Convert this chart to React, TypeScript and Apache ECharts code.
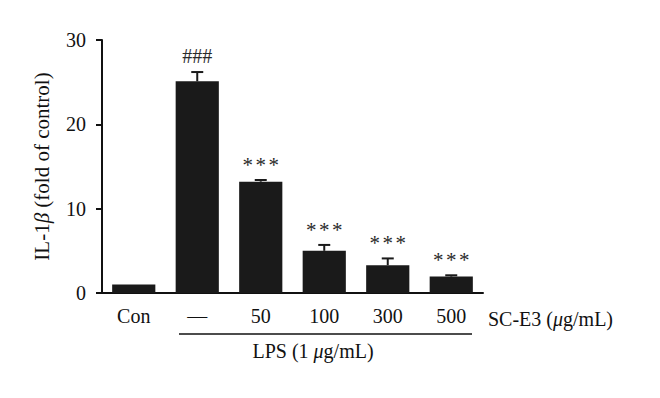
import React, { useEffect, useRef } from "react";
import * as echarts from "echarts";

const categories = ["Con", "—", "50", "100", "300", "500"];
const means = [1.0, 25.1, 13.2, 5.0, 3.3, 1.95];
const errors = [0, 1.1, 0.2, 0.7, 0.8, 0.15];
const marks = ["", "###", "***", "***", "***", "***"];
const yTicks = [0, 10, 20, 30];

const FONT = "Liberation Serif";

export default function App() {
  const ref = useRef<HTMLDivElement>(null);
  useEffect(() => {
    const chart = echarts.init(ref.current!, null, { renderer: "svg" });
    const errData = means.map((m, i) => [i, m, m + errors[i], marks[i]]);
    chart.setOption({
      animation: false,
      backgroundColor: "#ffffff",
      grid: { left: 102, top: 40, right: 177, bottom: 105 },
      xAxis: {
        type: "category",
        data: categories,
        axisLine: { lineStyle: { color: "#111", width: 2 } },
        axisTick: { alignWithLabel: true, length: 6, lineStyle: { color: "#111", width: 2 } },
        axisLabel: { color: "#111", fontFamily: FONT, fontSize: 20, margin: 13 },
      },
      yAxis: {
        type: "value",
        min: yTicks[0],
        max: yTicks[yTicks.length - 1],
        interval: 10,
        splitLine: { show: false },
        axisLine: { show: true, lineStyle: { color: "#111", width: 2 } },
        axisTick: { show: true, length: 6, lineStyle: { color: "#111", width: 2 } },
        axisLabel: { color: "#111", fontFamily: FONT, fontSize: 20, margin: 16 },
        name: "{n|IL-1}{i|β}{n| (fold of control)}",
        nameLocation: "middle",
        nameGap: 50,
        nameRotate: 90,
        nameTextStyle: {
          fontFamily: FONT,
          fontSize: 21,
          fontStyle: "normal",
          color: "#111",
          rich: {
            n: { fontFamily: FONT, fontSize: 21, color: "#111", fontStyle: "normal" },
            i: { fontFamily: FONT, fontSize: 21, color: "#111", fontStyle: "italic" },
          },
        },
      },
      series: [
        {
          type: "bar",
          data: means,
          barWidth: "68%",
          itemStyle: { color: "#1a1a1a" },
        },
        {
          type: "custom",
          data: errData,
          z: 5,
          renderItem: (params: any, api: any) => {
            const x = api.value(0);
            const lo = api.coord([x, api.value(1)]);
            const hi = api.coord([x, api.value(2)]);
            const half = 6;
            const children: any[] = [];
            if (hi[1] < lo[1] - 0.5) {
              children.push({
                type: "line",
                shape: { x1: lo[0], y1: lo[1], x2: hi[0], y2: hi[1] },
                style: { stroke: "#1a1a1a", lineWidth: 2 },
              });
              children.push({
                type: "line",
                shape: { x1: hi[0] - half, y1: hi[1], x2: hi[0] + half, y2: hi[1] },
                style: { stroke: "#1a1a1a", lineWidth: 2 },
              });
            }
            const mark = String(api.value(3) || "");
            if (mark) {
              const isHash = mark.indexOf("#") >= 0;
              if (isHash) {
                children.push({
                  type: "text",
                  x: hi[0],
                  y: hi[1] - 16,
                  style: {
                    text: mark,
                    fontFamily: FONT,
                    fontSize: 20,
                    fill: "#2a2a2a",
                    align: "center",
                    verticalAlign: "middle",
                  },
                });
              } else {
                const n = mark.length;
                for (let k = 0; k < n; k++) {
                  children.push({
                    type: "text",
                    x: hi[0] + (k - (n - 1) / 2) * 13,
                    y: hi[1] - 15,
                    style: {
                      text: mark[k],
                      fontFamily: FONT,
                      fontSize: 21,
                      fill: "#2a2a2a",
                      align: "center",
                      verticalAlign: "middle",
                    },
                  });
                }
              }
            }
            return { type: "group", children };
          },
        },
      ],
      graphic: [
        {
          type: "line",
          shape: { x1: 179, y1: 334, x2: 472, y2: 334 },
          style: { stroke: "#111", lineWidth: 1.5 },
        },
        {
          type: "text",
          x: 313,
          y: 351,
          style: {
            text: "{n|LPS (1 }{i|μ}{n|g/mL)}",
            align: "center",
            verticalAlign: "middle",
            rich: {
              n: { fontFamily: FONT, fontSize: 20, fill: "#111" },
              i: { fontFamily: FONT, fontSize: 20, fill: "#111", fontStyle: "italic" },
            },
          },
        },
        {
          type: "text",
          x: 488,
          y: 319,
          style: {
            text: "{n|SC-E3 (}{i|μ}{n|g/mL)}",
            align: "left",
            verticalAlign: "middle",
            rich: {
              n: { fontFamily: FONT, fontSize: 20, fill: "#111" },
              i: { fontFamily: FONT, fontSize: 20, fill: "#111", fontStyle: "italic" },
            },
          },
        },
      ],
    });
    return () => chart.dispose();
  }, []);
  return <div ref={ref} style={{ width: 660, height: 398, position: "absolute", left: 0, top: 0 }} />;
}
